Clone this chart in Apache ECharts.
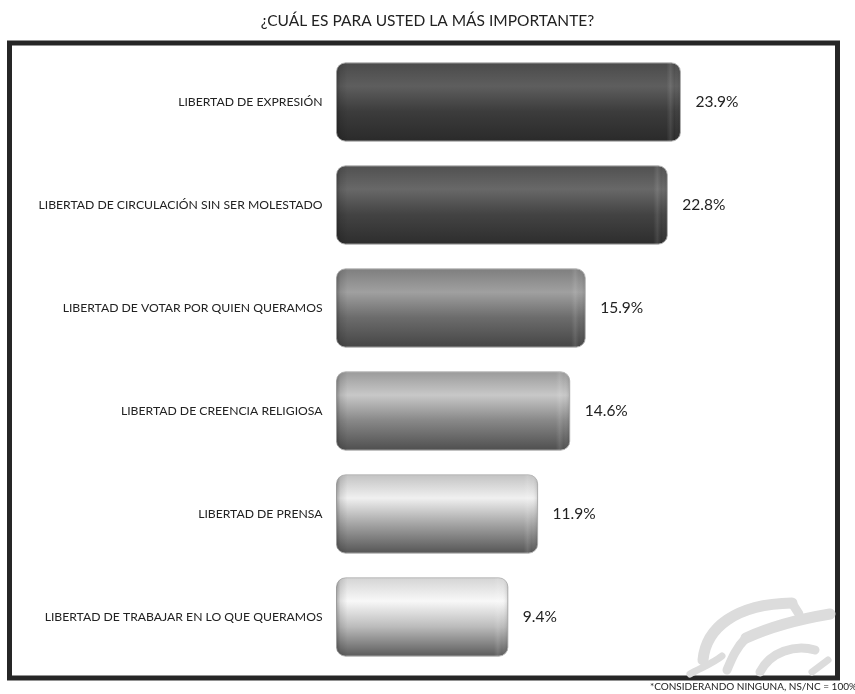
<!DOCTYPE html>
<html>
<head>
<meta charset="utf-8">
<script src="https://cdn.jsdelivr.net/npm/echarts@6/dist/echarts.min.js"></script>
<style>
html,body{margin:0;padding:0;background:#fff;}
#chart{width:855px;height:694px;}
</style>
</head>
<body>
<div id="chart"></div>
<script>
// ---- data ----
const categories = [
  'LIBERTAD DE EXPRESIÓN',
  'LIBERTAD DE CIRCULACIÓN SIN SER MOLESTADO',
  'LIBERTAD DE VOTAR POR QUIEN QUERAMOS',
  'LIBERTAD DE CREENCIA RELIGIOSA',
  'LIBERTAD DE PRENSA',
  'LIBERTAD DE TRABAJAR EN LO QUE QUERAMOS'
];
const values = [23.9, 22.8, 15.9, 14.6, 11.9, 9.4];
const titleText = '¿CUÁL ES PARA USTED LA MÁS IMPORTANTE?';
const footnoteText = '*CONSIDERANDO NINGUNA, NS/NC = 100%';

// ---- styles ----
const barShades = [
  ['#4a4a4a', '#5e5e5e', '#3c3c3c', '#2a2a2a'],
  ['#505050', '#686868', '#434343', '#2d2d2d'],
  ['#7e7e7e', '#a0a0a0', '#6c6c6c', '#454545'],
  ['#9a9a9a', '#c8c8c8', '#888888', '#4e4e4e'],
  ['#c2c2c2', '#f0f0f0', '#a6a6a6', '#545454'],
  ['#d4d4d4', '#f8f8f8', '#bcbcbc', '#5a5a5a']
];
const FONT = 'Lato';

const chart = echarts.init(document.getElementById('chart'), null, {renderer: 'canvas'});

function renderBar(params, api) {
  const i = params.dataIndex;
  const v = api.value(0);
  const end = api.coord([v, api.value(1)]);
  const band = api.size([0, 1])[1];
  const h = band * 0.76;
  const x0 = params.coordSys.x;
  const w = end[0] - x0;
  const y0 = end[1] - h / 2;
  const s = barShades[i];
  const f = (px) => Math.min(0.49, px / w);
  return {
    type: 'group',
    children: [
      {
        type: 'rect',
        shape: {x: x0, y: y0, width: w, height: h, r: 9},
        style: {
          fill: new echarts.graphic.LinearGradient(0, 0, 0, 1, [
            {offset: 0, color: s[0]},
            {offset: 0.3, color: s[1]},
            {offset: 0.62, color: s[2]},
            {offset: 1, color: s[3]}
          ]),
          stroke: '#b8b8b8',
          lineWidth: 1
        }
      },
      {
        type: 'rect',
        shape: {x: x0, y: y0, width: w, height: h, r: 9},
        style: {
          fill: new echarts.graphic.LinearGradient(0, 0, 1, 0, [
            {offset: 0, color: 'rgba(0,0,0,0.3)'},
            {offset: f(4), color: 'rgba(0,0,0,0.1)'},
            {offset: f(11), color: 'rgba(0,0,0,0)'},
            {offset: 1 - f(14), color: 'rgba(255,255,255,0)'},
            {offset: 1 - f(10), color: 'rgba(255,255,255,0.1)'},
            {offset: 1 - f(6), color: 'rgba(255,255,255,0.0)'},
            {offset: 1, color: 'rgba(0,0,0,0.12)'}
          ])
        }
      },
      {
        type: 'text',
        style: {
          x: end[0] + 15,
          y: end[1],
          text: v.toFixed(1) + '%',
          fill: '#222',
          font: '15.5px ' + FONT,
          verticalAlign: 'middle',
          align: 'left'
        }
      }
    ]
  };
}

const option = {
  backgroundColor: '#fff',
  animation: false,
  title: {
    text: titleText,
    left: 'center',
    top: 8,
    textStyle: {fontFamily: FONT, fontSize: 15.5, fontWeight: 'normal', color: '#222'}
  },
  grid: {left: 336.5, width: 476, top: 50.5, bottom: 25.5, containLabel: false},
  xAxis: {
    type: 'value', min: -5, max: 35, show: false
  },
  yAxis: {
    type: 'category',
    data: categories,
    inverse: true,
    axisLine: {show: false},
    axisTick: {show: false},
    axisLabel: {fontFamily: FONT, fontSize: 12.2, color: '#222', margin: 14}
  },
  series: [{
    type: 'custom',
    renderItem: renderBar,
    encode: {x: 0, y: 1},
    data: values.map((v, i) => [v, i]),
    z: 5
  }],
  graphic: [
    {
      type: 'rect', z: -10, silent: true,
      shape: {x: 9.5, y: 43, width: 828, height: 635},
      style: {fill: 'none', stroke: '#262626', lineWidth: 5}
    },
    {
      type: 'group', z: -5, silent: true,
      children: [
        {type: 'bezierCurve', shape: {x1: 703, y1: 660, cpx1: 706, cpy1: 628, cpx2: 735, cpy2: 604, x2: 792, y2: 603},
          style: {stroke: '#dcdcdc', lineWidth: 11, lineCap: 'round', fill: 'none'}},
        {type: 'line', shape: {x1: 792, y1: 603, x2: 799, y2: 614},
          style: {stroke: '#dcdcdc', lineWidth: 9, lineCap: 'round'}},
        {type: 'bezierCurve', shape: {x1: 746, y1: 638, cpx1: 770, cpy1: 627, cpx2: 800, cpy2: 619, x2: 830, y2: 614},
          style: {stroke: '#dcdcdc', lineWidth: 11, lineCap: 'round', fill: 'none'}},
        {type: 'bezierCurve', shape: {x1: 746, y1: 638, cpx1: 736, cpy1: 648, cpx2: 732, cpy2: 658, x2: 727, y2: 670},
          style: {stroke: '#dcdcdc', lineWidth: 9, lineCap: 'round', fill: 'none'}},
        {type: 'bezierCurve', shape: {x1: 760, y1: 672, cpx1: 770, cpy1: 652, cpx2: 795, cpy2: 644, x2: 815, y2: 650},
          style: {stroke: '#dcdcdc', lineWidth: 9, lineCap: 'round', fill: 'none'}},
        {type: 'bezierCurve', shape: {x1: 690, y1: 674, cpx1: 700, cpy1: 668, cpx2: 712, cpy2: 664, x2: 722, y2: 656},
          style: {stroke: '#dcdcdc', lineWidth: 7, lineCap: 'round', fill: 'none'}},
        {type: 'line', shape: {x1: 812, y1: 672, x2: 828, y2: 660},
          style: {stroke: '#dcdcdc', lineWidth: 7, lineCap: 'round'}}
      ]
    },
    {
      type: 'text', z: 10, silent: true,
      right: -2, top: 682,
      style: {text: footnoteText, font: '10px ' + FONT, fill: '#222'}
    }
  ]
};
chart.setOption(option);
</script>
</body>
</html>
